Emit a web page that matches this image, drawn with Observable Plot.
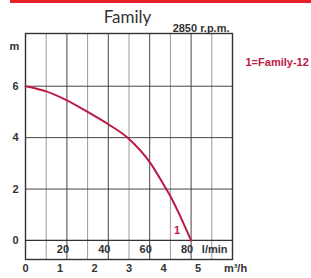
<!DOCTYPE html>
<html><head><meta charset="utf-8">
<script src="https://cdn.jsdelivr.net/npm/d3@7"></script>
<script src="https://cdn.jsdelivr.net/npm/@observablehq/plot@0.6"></script>
<style>
body{margin:0;background:#fff;}
#wrap{position:relative;width:311px;height:278px;}
#bar{position:absolute;left:10px;top:0;width:301px;height:3px;background:#e8202a;}
</style></head>
<body><div id="wrap"><div id="bar"></div></div>
<script>
const flowLpm = [0, 10, 20, 30, 40, 50, 60, 68, 70, 75, 80];
const headM   = [6, 5.8, 5.45, 5.0, 4.52, 3.95, 3.05, 2.0, 1.72, 0.9, 0];
const lpmTickLabels = [20, 40, 60, 80];
const m3hTickLabels = [0, 1, 2, 3, 4, 5];
const headTicks = [0, 2, 4, 6];
const gridMajor = [20, 40, 60, 80];
const gridMinor = [10, 30, 50, 70, 90];
const curveName = "1=Family-12";
const title = "Family";
const speed = "2850 r.p.m.";

const data = flowLpm.map((x, i) => ({x, y: headM[i]}));
const crimson = "#bb1a42";
const T = {fontSize: 11, fontWeight: "bold", fill: "#333", lineAnchor: "middle"};

const chart = Plot.plot({
  width: 311, height: 278,
  marginLeft: 25, marginRight: 79, marginTop: 33, marginBottom: 19,
  x: {domain: [0, 100]},
  y: {domain: [-0.74, 8.05]},
  style: {fontFamily: "'Liberation Sans', Arial, sans-serif", fontSize: "11px", fontWeight: "bold", color: "#333", background: "transparent"},
  marks: [
    Plot.ruleX(gridMinor, {stroke: "#9a9a9a", strokeWidth: 1}),
    Plot.ruleX(gridMajor, {stroke: "#444", strokeWidth: 1}),
    Plot.ruleY([2, 4, 6], {stroke: "#444", strokeWidth: 1}),
    Plot.ruleY([0], {stroke: "#333", strokeWidth: 1.2}),
    Plot.frame({stroke: "#333", strokeWidth: 1.4}),
    Plot.line(data, {x: "x", y: "y", stroke: crimson, strokeWidth: 2, curve: "monotone-x"}),
    Plot.axisY(headTicks, {tickSize: 0, tickPadding: 7, label: null, fill: "#333", fontSize: 11, fontWeight: "bold"}),
    Plot.axisX(m3hTickLabels.map(v => v * 1000 / 60), {tickSize: 0, tickPadding: 5, label: null,
      tickFormat: d => String(Math.round(d * 60 / 1000)), fill: "#333", fontSize: 11, fontWeight: "bold"}),
    Plot.text(lpmTickLabels, {...T, x: d => d, frameAnchor: "bottom", dy: -10, dx: -4}),
    Plot.text(["l/min"], {...T, frameAnchor: "bottom-right", textAnchor: "end", dx: -5, dy: -10}),
    Plot.text(["m³/h"], {...T, frameAnchor: "bottom-right", textAnchor: "middle", dx: 3, dy: 9}),
    Plot.text(["m"], {...T, frameAnchor: "top-left", textAnchor: "middle", dx: -11, dy: 13}),
    Plot.text([title], {...T, frameAnchor: "top-left", textAnchor: "middle", dx: 102, dy: -16,
      fontSize: 17, fontWeight: "normal", fontFamily: "Lato, 'Open Sans', sans-serif"}),
    Plot.text([speed], {...T, frameAnchor: "top-right", textAnchor: "end", dx: -3, dy: -5}),
    Plot.text([curveName], {...T, frameAnchor: "top-right", textAnchor: "start", dx: 13, dy: 29, fill: crimson}),
    Plot.text(data.slice(-1), {...T, x: "x", y: "y", text: () => "1", dx: -14, dy: -10, fill: crimson})
  ]
});
chart.style.position = "absolute";
chart.style.left = "0";
chart.style.top = "0";
document.getElementById("wrap").appendChild(chart);
</script>
</body></html>
